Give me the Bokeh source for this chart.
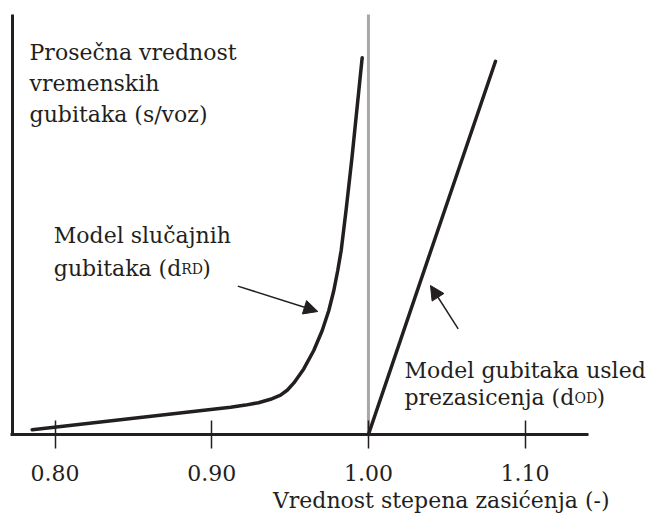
from bokeh.plotting import figure
from bokeh.models import Range1d, FixedTicker, Arrow, NormalHead, Label
from bokeh.embed import file_html
from bokeh.resources import INLINE

# ---- data ----
rd_x = [0.7854, 0.9120, 0.9215, 0.9298, 0.9375, 0.9439, 0.9483, 0.9524, 0.9587, 0.9651,
        0.9705, 0.9747, 0.9779, 0.9804, 0.9826, 0.9857, 0.9895, 0.9960]
rd_y = [1.2, 6.8, 7.35, 7.95, 8.8, 9.85, 11.13, 12.9, 16.4, 21.0,
        26.0, 31.0, 36.0, 41.0, 46.0, 56.0, 69.25, 94.2]
od_x = [1.0, 1.0392, 1.0811]
od_y = [0.0, 45.2, 93.3]
capacity_x = [1.0, 1.0]
capacity_y = [0.0, 105.0]
tick_vals = [0.80, 0.90, 1.00, 1.10]
tick_labels = ["0.80", "0.90", "1.00", "1.10"]
x_axis_bounds = (0.7715, 1.1405)
y_axis_bounds = (0.0, 105.0)

INK = "#231f20"
FONT = "DejaVu Serif"

p = figure(width=652, height=514,
           x_range=Range1d(0.76515, 1.18131), y_range=Range1d(-20.0, 108.5),
           output_backend="svg", toolbar_location=None,
           min_border_left=0, min_border_right=0, min_border_top=0, min_border_bottom=0)
p.outline_line_color = None
p.xgrid.visible = False
p.ygrid.visible = False
p.background_fill_color = "white"
p.border_fill_color = "white"

# x axis
xa = p.xaxis[0]
xa.fixed_location = 0
xa.bounds = x_axis_bounds
xa.ticker = FixedTicker(ticks=tick_vals)
xa.major_label_overrides = {v: l for v, l in zip(tick_vals, tick_labels)}
xa.axis_line_width = 3
xa.axis_line_color = INK
xa.major_tick_line_color = INK
xa.major_tick_line_width = 1.5
xa.major_tick_in = 14
xa.major_tick_out = 14
xa.minor_tick_line_color = None
xa.major_label_text_font = FONT
xa.major_label_text_font_size = "22px"
xa.major_label_text_color = INK
xa.major_label_standoff = 16

# y axis (line only)
ya = p.yaxis[0]
ya.fixed_location = 0.7725
ya.bounds = y_axis_bounds
ya.ticker = FixedTicker(ticks=[])
ya.axis_line_width = 3
ya.axis_line_color = INK
ya.major_tick_in = 0
ya.major_tick_out = 0
ya.minor_tick_line_color = None
ya.major_label_text_font_size = "0px"
ya.major_label_standoff = 0

# capacity line (x = 1)
p.line(capacity_x, capacity_y, line_color="#a7a7a7", line_width=3, level="underlay")

# curves
p.line(rd_x, rd_y, line_color=INK, line_width=3.5, line_join="round", line_cap="round")
p.line(od_x, od_y, line_color=INK, line_width=3.5, line_join="round", line_cap="round")

# arrows
p.add_layout(Arrow(end=NormalHead(size=14, fill_color=INK, line_color=INK),
                   x_start=0.9166, y_start=37.1, x_end=0.9677, y_end=30.75,
                   line_color=INK, line_width=1.5))
p.add_layout(Arrow(end=NormalHead(size=14, fill_color=INK, line_color=INK),
                   x_start=1.0573, y_start=26.4, x_end=1.0396, y_end=37.25,
                   line_color=INK, line_width=1.5))

def lab(x, y, text, size="22px", align="left"):
    p.add_layout(Label(x=x, y=y, text=text, text_font=FONT, text_font_size=size,
                       text_color=INK, text_align=align, text_baseline="alphabetic"))

# y axis title
lab(0.7837, 95.6, "Prosečna vrednost")
lab(0.7837, 87.8, "vremenskih")
lab(0.7837, 79.9, "gubitaka (s/voz)")

# random delay model
lab(0.7992, 49.75, "Model slučajnih")
lab(0.7992, 41.5, "gubitaka (d")
lab(0.8805, 41.5, "RD", size="14px")
lab(0.8939, 41.5, ")")

# oversaturation model
lab(1.0230, 16.1, "Model gubitaka usled")
lab(1.0230, 9.2, "prezasicenja (d")
lab(1.1315, 9.2, "OD", size="14px")
lab(1.1455, 9.2, ")")

# x axis title
lab(1.1539, -16.5, "Vrednost stepena zasićenja (-)", align="right")

open("out.html", "w").write(file_html(p, INLINE))
